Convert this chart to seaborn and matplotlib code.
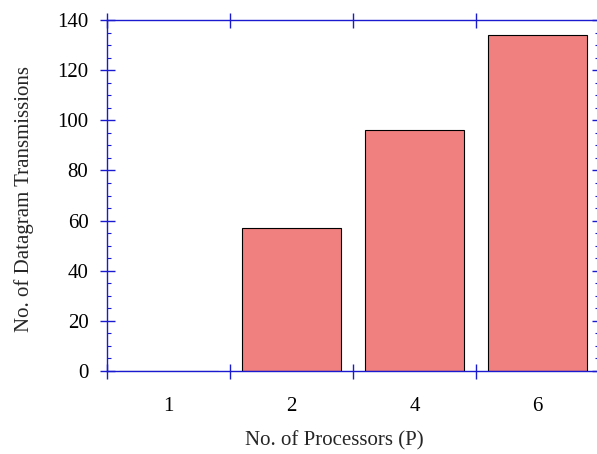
import matplotlib
matplotlib.use("Agg")
import matplotlib.pyplot as plt
import seaborn as sns
import pandas as pd
from matplotlib.ticker import MultipleLocator

categories = ["1", "2", "4", "6"]
values = [0, 57, 96, 134]
y_ticks = [0, 20, 40, 60, 80, 100, 120, 140]

sns.set_style("white")
plt.rcParams["font.family"] = ["Liberation Serif", "DejaVu Serif"]

df = pd.DataFrame({"P": categories, "T": values})

W, H = 597, 454
fig = plt.figure(figsize=(W / 100, H / 100), dpi=100)
ax = fig.add_axes([107 / W, (H - 371) / H, (599 - 107) / W, (371 - 20) / H])

sns.barplot(data=df, x="P", y="T", order=categories, color="#F08080",
            saturation=1, edgecolor="black", linewidth=0.8, width=0.8, ax=ax)

blue = "#1a1ad0"
for s in ax.spines.values():
    s.set_color(blue)
    s.set_linewidth(1.0)
    s.set_visible(True)

ax.set_xlim(-0.5, 3.5)
ax.set_ylim(0, 140)
ax.set_yticks(y_ticks)
ax.set_yticklabels([str(v) for v in y_ticks])
ax.yaxis.set_minor_locator(MultipleLocator(5))

ax.set_xticks([-0.5, 0.5, 1.5, 2.5, 3.5])
ax.set_xticklabels([""] * 5)
ax.set_xticks([0, 1, 2, 3], minor=True)
ax.set_xticklabels(categories, minor=True)

fs = 15
ax.tick_params(axis="both", which="major", direction="inout", length=10.8,
               width=1.0, color=blue, labelcolor="black", labelsize=fs,
               top=True, right=True, bottom=True, left=True)
ax.tick_params(axis="y", which="major", pad=8)
ax.tick_params(axis="y", which="minor", direction="in", length=3, width=0.8,
               color=blue, left=True, right=True)
ax.tick_params(axis="x", which="minor", length=0, pad=19, labelsize=fs,
               labelcolor="black", bottom=True, top=False)

ax.set_xlabel("No. of Processors (P)", fontsize=fs)
ax.set_ylabel("No. of Datagram Transmissions", fontsize=fs)
ax.xaxis.set_label_coords((334 - 107) / (599 - 107), -(431 - 371) / (371 - 20))
ax.yaxis.set_label_coords(-(107 - 34) / (599 - 107), (371 - 198.5) / (371 - 20))

fig.savefig("out.png", dpi=100)
